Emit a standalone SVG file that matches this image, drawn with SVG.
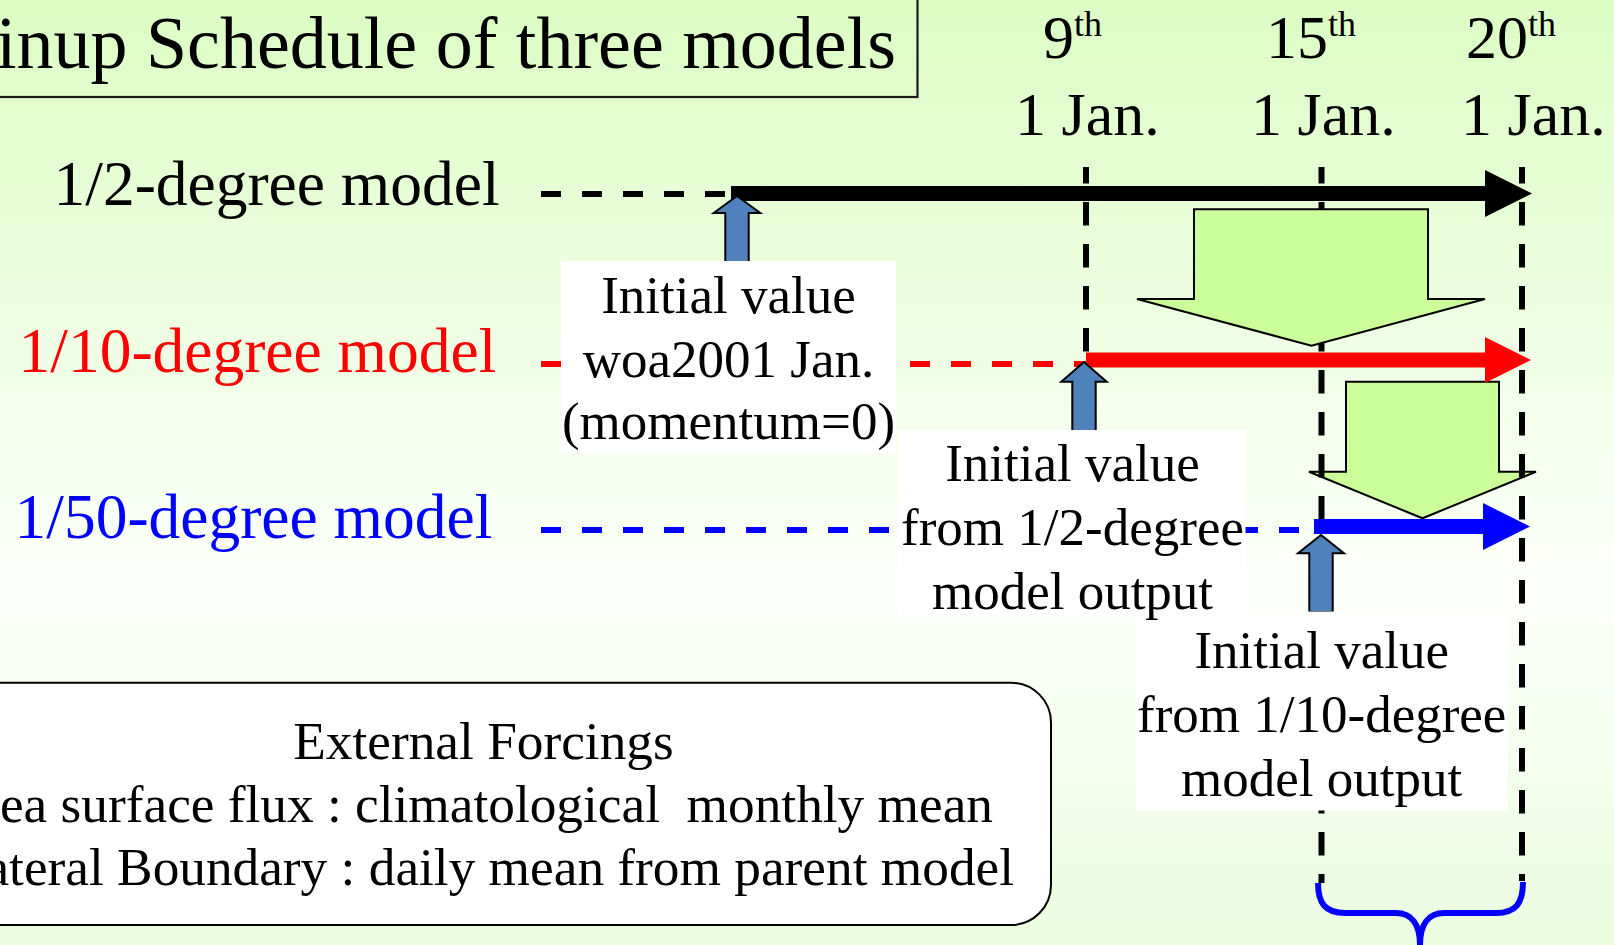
<svg xmlns="http://www.w3.org/2000/svg" width="1614" height="945" viewBox="0 0 1614 945">
<defs>
<linearGradient id="bg" x1="0" y1="0" x2="0" y2="1">
<stop offset="0" stop-color="#dcfdc4"/>
<stop offset="0.62" stop-color="#fdfffb"/>
<stop offset="1" stop-color="#ebfcdf"/>
</linearGradient>
<style>
text{font-family:"Liberation Serif","Times New Roman",serif;}
.lab{font-size:63.5px;}
.date{font-size:62px;fill:#000;}
.sup{font-size:36px;}
.box{font-size:53px;text-anchor:middle;fill:#000;}
.dash{fill:none;stroke-width:6;stroke-dasharray:20 21;}
.vdash{fill:none;stroke:#000;stroke-width:6;stroke-dasharray:23.5 18.5;stroke-dashoffset:7;}
.bar{fill:none;stroke-width:15;}
.up{fill:#4f81bd;stroke:#000;stroke-width:2;stroke-linejoin:miter;}
.down{fill:#ccff99;stroke:#000;stroke-width:2;stroke-linejoin:miter;}
.white{fill:#fff;stroke:none;}
.forc{font-size:53.3px;fill:#000;white-space:pre;}
</style>
</defs>
<rect x="0" y="0" width="1614" height="945" fill="url(#bg)"/>

<g id="title">
<rect x="-10" y="-10" width="927.5" height="107" fill="none" stroke="#1a1a1a" stroke-width="2.2"/>
<text x="896" y="68" font-size="74" text-anchor="end" fill="#000">inup Schedule of three models</text>
</g>

<g id="model-labels">
<text class="lab" x="53.5" y="205" fill="#000">1/2-degree model</text>
<text class="lab" x="18.5" y="372" fill="#ff0000">1/10-degree model</text>
<text class="lab" x="14.5" y="538" fill="#0000ff">1/50-degree model</text>
</g>

<g id="dates">
<text class="date" x="1043" y="58">9<tspan class="sup" dy="-22">th</tspan></text>
<text class="date" x="1266" y="58">15<tspan class="sup" dy="-22">th</tspan></text>
<text class="date" x="1466" y="58">20<tspan class="sup" dy="-22">th</tspan></text>
<text class="date" x="1015" y="135">1 Jan.</text>
<text class="date" x="1251" y="135">1 Jan.</text>
<text class="date" x="1461" y="135">1 Jan.</text>
</g>

<g id="connectors">
<path class="dash" stroke="#000" d="M541,194 H731"/>
<path class="dash" stroke="#ff0000" d="M541,364 H1086"/>
<path class="dash" stroke="#0000ff" d="M541,530 H1314"/>
</g>

<g id="arrow-b">
<polygon class="down" points="1346,381.7 1499,381.7 1499,471.7 1536,471.7 1422.5,518.3 1309,471.7 1346,471.7"/>
</g>

<g id="timelines">
<path class="vdash" d="M1086,167 V360"/>
<path class="vdash" d="M1321.5,167 V883"/>
<path class="vdash" d="M1522,167 V881"/>
</g>

<g id="bars">
<path class="bar" stroke="#000" d="M731,193.5 H1487"/>
<polygon fill="#000" points="1485,170 1532,193.5 1485,217"/>
<path class="bar" stroke="#ff0000" stroke-width="16" d="M1086,360 H1487"/>
<polygon fill="#ff0000" points="1485,337 1531,360 1485,383"/>
<path class="bar" stroke="#0000ff" d="M1314,526.5 H1485"/>
<polygon fill="#0000ff" points="1483,503 1530,526.5 1483,550"/>
</g>

<g id="arrow-a">
<polygon class="down" points="1194,209.3 1428,209.3 1428,299 1485,299 1311.5,345.7 1137,299 1194,299"/>
</g>

<g id="init-arrows">
<polygon class="up" points="737,196 760.3,213 748.7,213 748.7,262 725.3,262 725.3,213 713.7,213"/>
<polygon class="up" points="1084,362 1106.7,381.7 1095.7,381.7 1095.7,431 1072.3,431 1072.3,381.7 1061.3,381.7"/>
<polygon class="up" points="1321,535 1344,553.3 1332.7,553.3 1332.7,612 1309.3,612 1309.3,553.3 1298,553.3"/>
</g>

<g id="init1">
<rect class="white" x="561" y="261" width="335" height="192"/>
<text class="box" x="728.5" y="313">Initial value</text>
<text class="box" x="728.5" y="377">woa2001 Jan.</text>
<text class="box" x="728.5" y="439">(momentum=0)</text>
</g>

<g id="init3">
<rect class="white" x="1136" y="611.5" width="371.5" height="199"/>
<text class="box" x="1321.7" y="668.3">Initial value</text>
<text class="box" x="1321.7" y="731.7">from 1/10-degree</text>
<text class="box" x="1321.7" y="796">model output</text>
</g>

<g id="init2">
<rect class="white" x="898.5" y="430" width="347" height="188"/>
<text class="box" x="1072.5" y="480.5">Initial value</text>
<text class="box" x="1072.5" y="545">from 1/2-degree</text>
<text class="box" x="1072.5" y="609">model output</text>
</g>

<g id="forcings">
<rect x="-40" y="682.7" width="1091" height="242.3" rx="40" ry="40" fill="#fff" stroke="#000" stroke-width="2"/>
<text class="forc" x="483.5" y="758.5" text-anchor="middle">External Forcings</text>
<text class="forc" x="993" y="822" text-anchor="end">ea surface flux : climatological  monthly mean</text>
<text class="forc" x="1014" y="885" text-anchor="end">ateral Boundary : daily mean from parent model</text>
</g>

<g id="brace">
<path d="M1318,883 C1318,903 1325,913 1345,913 L1396,913 C1412,913 1420,925 1420,945 M1523,882 C1523,903 1516,913 1496,913 L1444,913 C1428,913 1420,925 1420,945" fill="none" stroke="#0000ff" stroke-width="6"/>
</g>
</svg>
